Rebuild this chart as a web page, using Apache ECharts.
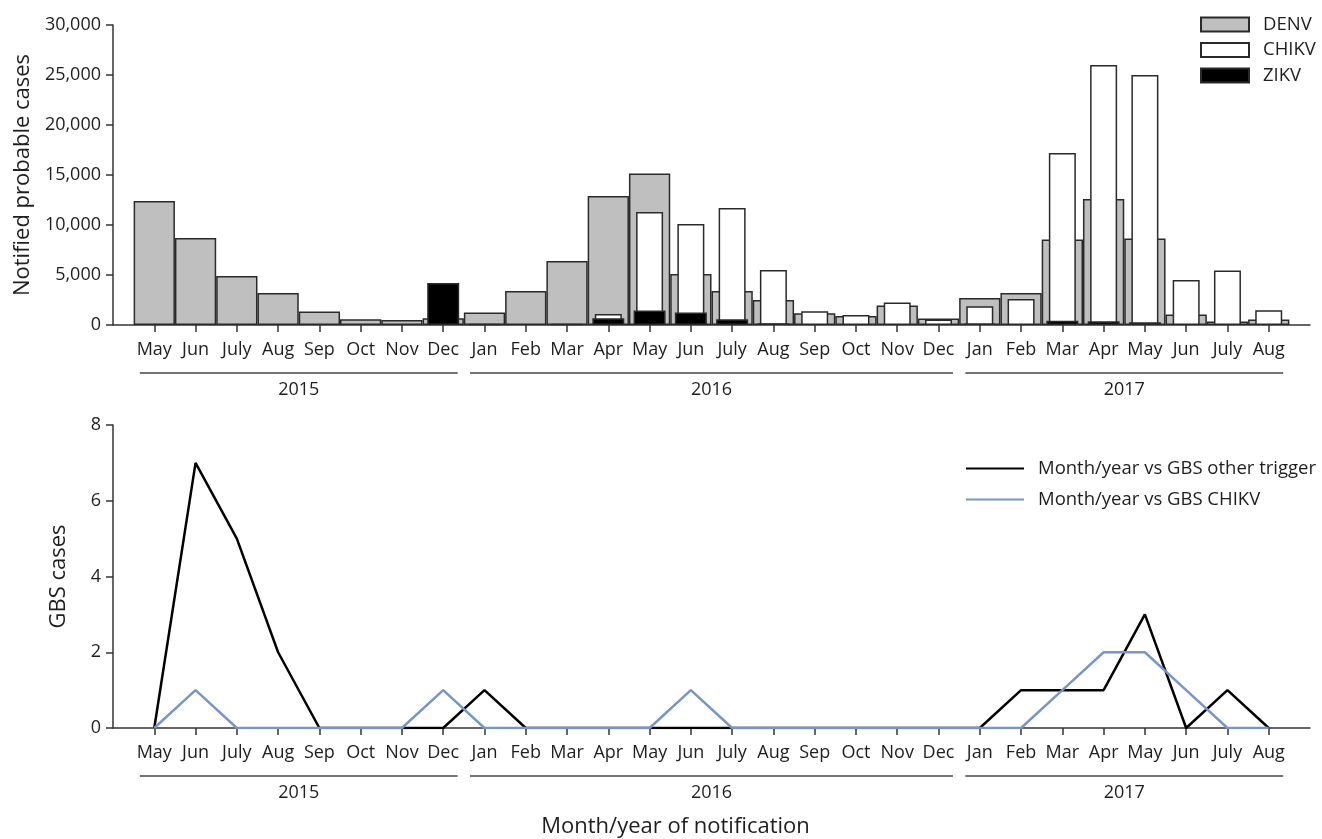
<!DOCTYPE html>
<html>
<head>
<meta charset="utf-8">
<script src="https://cdn.jsdelivr.net/npm/echarts@6/dist/echarts.min.js"></script>
<style>
html,body{margin:0;padding:0;background:#fff;}
#chart{width:1322px;height:839px;}
</style>
</head>
<body>
<div id="chart"></div>
<script>
// Month categories (May 2015 .. Aug 2017)
const months = ['May','Jun','July','Aug','Sep','Oct','Nov','Dec',
  'Jan','Feb','Mar','Apr','May','Jun','July','Aug','Sep','Oct','Nov','Dec',
  'Jan','Feb','Mar','Apr','May','Jun','July','Aug'];
const years = ['2015','2016','2017'];
const yearFirst = [0, 8, 20];
const yearLast = [7, 19, 27];

// Notified probable cases
const denv = [12400, 8700, 4900, 3200, 1350, 570, 500, 670,
  1250, 3400, 6400, 12900, 15150, 5100, 3400, 2500, 1170, 900, 1940, 640,
  2700, 3200, 8550, 12600, 8650, 1050, 350, 550];
const chikv = [null, null, null, null, null, null, null, null,
  null, null, null, 1100, 11300, 10100, 11700, 5500, 1370, 1000, 2240, 540,
  1870, 2600, 17200, 26000, 25000, 4500, 5450, 1480];
const zikv = [null, null, null, null, null, null, null, 4200,
  90, null, 110, 670, 1440, 1240, 570, 170, null, null, null, null,
  140, null, 430, 370, 270, null, null, null];

// GBS cases
const gbsOther = [0, 7, 5, 2, 0, 0, 0, 0,
  1, 0, 0, 0, 0, 0, 0, 0, 0, 0, 0, 0,
  0, 1, 1, 1, 3, 0, 1, 0];
const gbsChikv = [0, 1, 0, 0, 0, 0, 0, 1,
  0, 0, 0, 0, 0, 1, 0, 0, 0, 0, 0, 0,
  0, 0, 1, 2, 2, 1, 0, 0];

const FONT = '"Open Sans", "Noto Sans", sans-serif';
const TXT = '#1e1e1e';
const AX = '#333333';
const idx = months.map((m, i) => i);
const pairs = arr => arr.map((v, i) => [i, v]).filter(p => p[1] !== null);

function xAxisShown(gridIndex) {
  return {
    type: 'value', gridIndex: gridIndex, min: -1, max: 28,
    axisLine: {show: true, onZero: false, lineStyle: {color: AX, width: 1.5}},
    axisTick: {show: true, customValues: idx, length: 7, lineStyle: {color: AX, width: 1.5}},
    axisLabel: {show: true, customValues: idx, margin: 16, color: TXT, fontFamily: FONT, fontSize: 18,
      formatter: v => months[Math.round(v)]},
    splitLine: {show: false}
  };
}
function xAxisHidden(gridIndex) {
  return {type: 'value', gridIndex: gridIndex, min: -1, max: 28, show: false, splitLine: {show: false}};
}

function yearSeries(xi, yi) {
  return {
    type: 'custom', xAxisIndex: xi, yAxisIndex: yi, silent: true, clip: false,
    data: years.map((y, k) => [yearFirst[k], yearLast[k], 0]),
    encode: {x: [0, 1], y: 2},
    renderItem: function (params, api) {
      const k = params.dataIndex;
      const p1 = api.coord([api.value(0) - 0.35, 0]);
      const p2 = api.coord([api.value(1) + 0.35, 0]);
      return {
        type: 'group', children: [
          {type: 'line', shape: {x1: p1[0], y1: p1[1] + 48, x2: p2[0], y2: p1[1] + 48},
            style: {stroke: '#444', lineWidth: 1.5}},
          {type: 'text', style: {text: years[k], x: (p1[0] + p2[0]) / 2, y: p1[1] + 65,
            align: 'center', verticalAlign: 'middle', fontSize: 18, fontFamily: FONT, fill: TXT}}
        ]
      };
    }
  };
}

const barStyle = fill => ({color: fill, borderColor: '#2a2a2a', borderWidth: 1.5});

function yAxisCommon() {
  return {
    nameLocation: 'middle', nameRotate: 90,
    nameTextStyle: {color: TXT, fontSize: 22, fontFamily: FONT},
    axisLine: {show: true, onZero: false, lineStyle: {color: AX, width: 1.5}},
    axisTick: {show: true, length: 7, lineStyle: {color: AX, width: 1.5}},
    splitLine: {show: false}
  };
}

const option = {
  backgroundColor: '#ffffff',
  animation: false,
  textStyle: {fontFamily: FONT},
  grid: [
    {left: 113, right: 12, top: 25, height: 300},
    {left: 113, right: 12, top: 425, height: 306}
  ],
  legend: [
    {
      data: ['DENV', 'CHIKV', 'ZIKV'], orient: 'vertical', left: 1200, top: 15, padding: 0,
      itemWidth: 48, itemHeight: 14, itemGap: 6.5, icon: 'rect',
      textStyle: {color: TXT, fontSize: 18.5, fontFamily: FONT, padding: [0, 0, 0, 9]},
      selectedMode: false
    },
    {
      data: ['Month/year vs GBS other trigger', 'Month/year vs GBS CHIKV'], orient: 'vertical', left: 965, top: 459, padding: 0,
      itemWidth: 58, itemHeight: 14, itemGap: 12,
      itemStyle: {opacity: 0},
      textStyle: {color: TXT, fontSize: 18.5, fontFamily: FONT, padding: [0, 0, 0, 9]},
      selectedMode: false
    }
  ],
  xAxis: [
    xAxisShown(0), xAxisHidden(0), xAxisHidden(0),
    Object.assign(xAxisShown(1), {
      name: 'Month/year of notification', nameLocation: 'middle', nameGap: 88,
      nameTextStyle: {color: TXT, fontSize: 22, fontFamily: FONT, padding: [0, 72, 0, 0]}
    })
  ],
  yAxis: [
    Object.assign(yAxisCommon(), {
      type: 'value', gridIndex: 0, min: 0, max: 30000, interval: 5000,
      name: 'Notified probable cases', nameGap: 77,
      axisLabel: {margin: 12, color: TXT, fontSize: 18, fontFamily: FONT,
        formatter: v => v.toLocaleString('en-US')}
    }),
    Object.assign(yAxisCommon(), {
      type: 'value', gridIndex: 1, min: 0, max: 8, interval: 2,
      name: 'GBS cases', nameGap: 43,
      axisLabel: {margin: 12, color: TXT, fontSize: 18, fontFamily: FONT}
    })
  ],
  series: [
    {name: 'DENV', type: 'bar', xAxisIndex: 0, yAxisIndex: 0, barWidth: 41.3,
      itemStyle: barStyle('#bfbfbf'), data: pairs(denv)},
    {name: 'CHIKV', type: 'bar', xAxisIndex: 1, yAxisIndex: 0, barWidth: 27,
      itemStyle: barStyle('#ffffff'), data: pairs(chikv)},
    {name: 'ZIKV', type: 'bar', xAxisIndex: 2, yAxisIndex: 0, barWidth: 32,
      itemStyle: barStyle('#000000'), data: pairs(zikv)},
    yearSeries(0, 0),
    {name: 'Month/year vs GBS other trigger', type: 'line', xAxisIndex: 3, yAxisIndex: 1,
      symbol: 'none', lineStyle: {color: '#000000', width: 2.5}, itemStyle: {color: '#000000'},
      data: pairs(gbsOther)},
    {name: 'Month/year vs GBS CHIKV', type: 'line', xAxisIndex: 3, yAxisIndex: 1,
      symbol: 'none', lineStyle: {color: '#7896c4', width: 2.5}, itemStyle: {color: '#7896c4'},
      data: pairs(gbsChikv)},
    yearSeries(3, 1)
  ]
};

const chart = echarts.init(document.getElementById('chart'), null, {renderer: 'canvas'});
chart.setOption(option);
</script>
</body>
</html>
